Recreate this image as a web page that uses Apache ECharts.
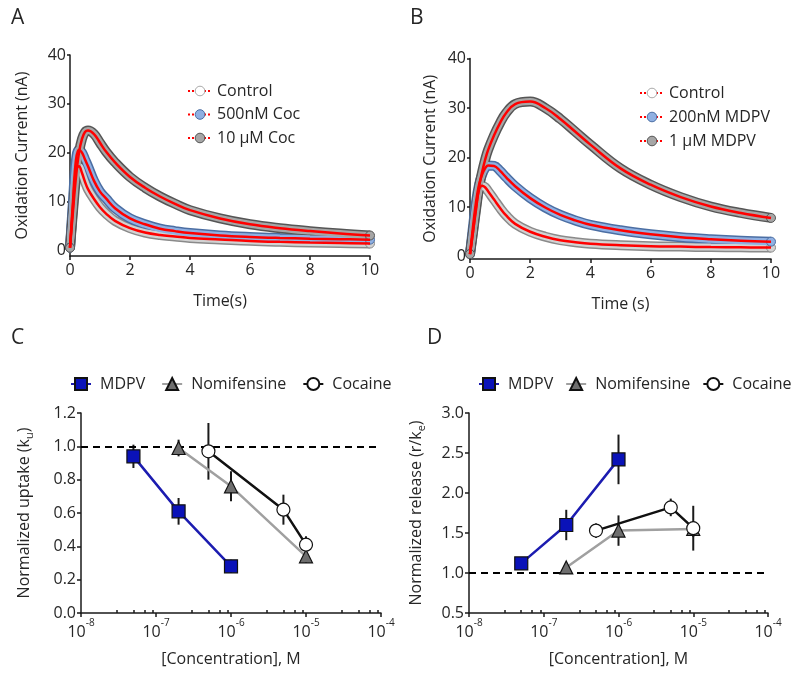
<!DOCTYPE html>
<html><head><meta charset="utf-8">
<script src="https://cdn.jsdelivr.net/npm/echarts@6/dist/echarts.min.js"></script>
<style>html,body{margin:0;padding:0;background:#fff}#c{width:800px;height:683px}</style>
</head><body><div id="c"></div>
<script>
// ---------- Panel A / B : time courses ----------
const timeS = [0,0.1,0.2,0.3,0.4,0.5,0.6,0.8,1.0,1.2,1.5,2,2.5,3,3.5,4,5,6,7,8,9,10];
const ctrlA   = [0.5,9,16.5,17.2,15.8,14,12.5,10.5,8.8,7.5,6.0,4.5,3.6,3.1,2.8,2.5,2.2,1.9,1.7,1.55,1.45,1.35];
const coc500A = [0.5,10,18.5,20.6,20,18.6,17.2,14.2,12,10.6,8.6,6.5,5.3,4.4,3.9,3.5,3.0,2.7,2.5,2.35,2.25,2.15];
const coc10A  = [0.5,8,15,20,22.8,24.2,24.5,23.8,22,20.2,18,15,12.8,11,9.5,8.2,6.5,5.3,4.5,3.9,3.4,3.0];
const ctrlB    = [0.5,5,10,13.5,14.3,14,13.2,11.5,9.8,8.3,6.6,5,4,3.3,2.9,2.6,2.3,2.1,2.0,1.9,1.85,1.8];
const mdpv200B = [0.5,6,11,14.5,16.5,17.8,18.4,18.3,17.3,16,14.2,11.8,9.9,8.4,7.3,6.4,5.3,4.5,3.9,3.5,3.2,3.0];
const mdpv1B   = [0.5,5,9.5,14,17,19.5,21.5,24.5,27,29,30.8,31.3,30,27.8,25.2,22.6,17.8,14.5,12,10.1,8.8,7.8];
const namesA = ['Control','500nM Coc','10 \u03bcM Coc'];
const namesB = ['Control','200nM MDPV','1 \u03bcM MDPV'];
const timeTicks = [0,2,4,6,8,10];
const currentTicks = [0,10,20,30,40];

// ---------- Panel C / D : concentration response ----------
const mdpvConc = [5e-8, 2e-7, 1e-6];
const nomConc  = [2e-7, 1e-6, 1e-5];
const cocConc  = [5e-7, 5e-6, 1e-5];
const mdpvUptake = [0.94, 0.61, 0.28];
const mdpvUptakeErr = [0.07, 0.08, 0.04];
const nomUptake = [0.99, 0.76, 0.34];
const nomUptakeErr = [0.05, 0.09, 0.04];
const cocUptake = [0.97, 0.62, 0.41];
const cocUptakeErr = [0.17, 0.09, 0.05];
const mdpvRelease = [1.12, 1.60, 2.42];
const mdpvReleaseErr = [0.03, 0.19, 0.31];
const nomRelease = [1.07, 1.53, 1.55];
const nomReleaseErr = [0.02, 0.19, 0.10];
const cocRelease = [1.53, 1.82, 1.56];
const cocReleaseErr = [0.09, 0.11, 0.28];
const drugNames = ['MDPV','Nomifensine','Cocaine'];
const decadeExps = [-8,-7,-6,-5,-4];
const minorMult = [3,5,7,9];
const uptakeTicks = [0,0.2,0.4,0.6,0.8,1.0,1.2];
const releaseTicks = [0.5,1.0,1.5,2.0,2.5,3.0];

const FONT = 'Open Sans';
const TXT = '#262626';
const AX = '#1a1a1a';

const pairs = (xs, ys) => xs.map((x,i)=>[x, ys[i]]);
const triples = (xs, ys, es) => xs.map((x,i)=>[x, ys[i], es[i]]);
const decadeVals = decadeExps.map(e => parseFloat('1e' + e));
const minorVals = [];
decadeExps.slice(0,-1).forEach(e => minorMult.forEach(m => minorVals.push(parseFloat(m + 'e' + e))));

const chart = echarts.init(document.getElementById('c'));

const grids = [
  {left:70, top:55, width:300, height:201},
  {left:470, top:58.5, width:301, height:200.5},
  {left:81, top:413, width:300, height:200},
  {left:469, top:413, width:299, height:200}
];

const lblStyle = {fontFamily:FONT, fontSize:16, color:TXT};
const axisLine = {show:true, onZero:false, lineStyle:{color:AX, width:1.5}};

function timeX(gi, name){
  return {type:'value', gridIndex:gi, min:0, max:10, axisLine,
    axisTick:{show:true, length:4, lineStyle:{color:AX, width:1.5}, customValues:timeTicks},
    axisLabel:Object.assign({margin:6, customValues:timeTicks}, lblStyle),
    splitLine:{show:false}, name, nameLocation:'middle', nameGap:37,
    nameTextStyle:{fontFamily:FONT, fontSize:16, color:TXT}};
}
function currentY(gi, min, gap){
  return {type:'value', gridIndex:gi, min, max:40, axisLine,
    axisTick:{show:true, length:3, lineStyle:{color:AX, width:1.5}, customValues:currentTicks},
    axisLabel:Object.assign({margin:4, customValues:currentTicks}, lblStyle),
    splitLine:{show:false}, name:'Oxidation Current (nA)', nameLocation:'middle', nameGap:gap,
    nameTextStyle:{fontFamily:FONT, fontSize:16, color:TXT}};
}
function concX(gi){
  return {type:'log', logBase:10, gridIndex:gi, min:1e-8, max:1e-4, axisLine,
    axisTick:{show:true, length:4, lineStyle:{color:AX, width:1.5}, customValues:decadeVals},
    axisLabel:{margin:5, customValues:decadeVals, color:TXT,
      formatter: v => '{b|10}{s|' + Math.round(Math.log10(v)) + '}',
      rich:{b:{fontFamily:FONT, fontSize:16, color:TXT, lineHeight:22, verticalAlign:'bottom'},
            s:{fontFamily:FONT, fontSize:10, color:TXT, lineHeight:12, verticalAlign:'top'}}},
    splitLine:{show:false}, name:'[Concentration], M', nameLocation:'middle', nameGap:38,
    nameTextStyle:{fontFamily:FONT, fontSize:16, color:TXT}};
}
function minorX(gi){
  return {type:'log', logBase:10, gridIndex:gi, min:1e-8, max:1e-4, position:'bottom',
    axisLine:{show:false, onZero:false}, axisLabel:{show:false}, splitLine:{show:false},
    axisTick:{show:true, inside:true, length:3, lineStyle:{color:AX, width:1.5}, customValues:minorVals}};
}
function ratioY(gi, min, max, ticks, name, gap){
  return {type:'value', gridIndex:gi, min, max, axisLine,
    axisTick:{show:true, length:4, lineStyle:{color:AX, width:1.5}, customValues:ticks},
    axisLabel:Object.assign({margin:5, customValues:ticks, formatter: v => v.toFixed(1)}, lblStyle),
    splitLine:{show:false}, name, nameLocation:'middle', nameGap:gap,
    nameTextStyle:{fontFamily:FONT, fontSize:16, color:TXT,
      rich:{sub:{fontFamily:FONT, fontSize:11, color:TXT, verticalAlign:'bottom', lineHeight:14},
            n:{fontFamily:FONT, fontSize:16, color:TXT, lineHeight:22}}}};
}

function trace(gi, name, ys, fill, edge){
  const last = timeS.length - 1;
  const d = pairs(timeS, ys);
  return [
    {type:'line', xAxisIndex:gi, yAxisIndex:gi, data:d, smooth:0.4, symbol:'none', silent:true,
     lineStyle:{width:10, color:edge}, z:2},
    {type:'line', name, xAxisIndex:gi, yAxisIndex:gi, data:d, smooth:0.4, symbol:'circle', showAllSymbol:true,
     symbolSize:(v,p)=> (p.dataIndex===last || p.dataIndex===0) ? 9 : 0,
     itemStyle:{color:fill, borderColor:edge, borderWidth:1}, lineStyle:{width:7, color:fill}, z:3}
  ];
}
function fit(gi, ys){
  return {type:'line', xAxisIndex:gi, yAxisIndex:gi, data:pairs(timeS, ys), smooth:0.4, symbol:'none',
    silent:true, lineStyle:{width:2.5, color:'#ff0000'}, z:6};
}
function errBars(gi, xs, ys, es){
  return {type:'custom', xAxisIndex:gi, yAxisIndex:gi, data:triples(xs, ys, es), z:4, silent:true,
    encode:{x:0, y:1},
    renderItem:(params, api) => {
      const x = api.value(0), y = api.value(1), e = api.value(2);
      const p1 = api.coord([x, y + e]), p2 = api.coord([x, y - e]);
      return {type:'line', shape:{x1:p1[0], y1:p1[1], x2:p2[0], y2:p2[1]},
              style:{stroke:'#1a1a1a', lineWidth:2}};
    }};
}
function drug(gi, name, xs, ys, lineColor, symbol, fill, size, extra){
  return Object.assign({type:'line', name, xAxisIndex:gi, yAxisIndex:gi, data:pairs(xs, ys),
    symbol, symbolSize:size, showAllSymbol:true,
    itemStyle:{color:fill, borderColor:'#111', borderWidth:1.2},
    lineStyle:{width:2.5, color:lineColor}, z:5}, extra || {});
}
const dashed = {silent:true, symbol:'none', label:{show:false},
  lineStyle:{type:[7,5], color:'#000', width:2}, data:[]};

const traceFill = {ctrl:'#d2d2d2', blue:'#8fb0e2', grey:'#a6a6a6'};
const traceEdge = {ctrl:'#8a8a8a', blue:'#4b6ea3', grey:'#555555'};

const series = [].concat(
  trace(0, namesA[0], ctrlA, traceFill.ctrl, traceEdge.ctrl),
  trace(0, namesA[1], coc500A, traceFill.blue, traceEdge.blue),
  trace(0, namesA[2], coc10A, traceFill.grey, traceEdge.grey),
  [fit(0, ctrlA), fit(0, coc500A), fit(0, coc10A)],
  trace(1, namesB[0], ctrlB, traceFill.ctrl, traceEdge.ctrl),
  trace(1, namesB[1], mdpv200B, traceFill.blue, traceEdge.blue),
  trace(1, namesB[2], mdpv1B, traceFill.grey, traceEdge.grey),
  [fit(1, ctrlB), fit(1, mdpv200B), fit(1, mdpv1B)],
  [errBars(2, mdpvConc, mdpvUptake, mdpvUptakeErr),
   errBars(2, nomConc, nomUptake, nomUptakeErr),
   errBars(2, cocConc, cocUptake, cocUptakeErr),
   drug(2, drugNames[0], mdpvConc, mdpvUptake, '#1c1cb0', 'rect', '#0a12b8', 13,
        {markLine:Object.assign({}, dashed, {data:[{yAxis:1}]})}),
   drug(2, drugNames[1], nomConc, nomUptake, '#a0a0a0', 'triangle', '#6e6e6e', 13),
   drug(2, drugNames[2], cocConc, cocUptake, '#111111', 'circle', '#ffffff', 13),
   errBars(3, mdpvConc, mdpvRelease, mdpvReleaseErr),
   errBars(3, nomConc, nomRelease, nomReleaseErr),
   errBars(3, cocConc, cocRelease, cocReleaseErr),
   drug(3, drugNames[0], mdpvConc, mdpvRelease, '#1c1cb0', 'rect', '#0a12b8', 13,
        {markLine:Object.assign({}, dashed, {data:[{yAxis:1}]})}),
   drug(3, drugNames[1], nomConc, nomRelease, '#a0a0a0', 'triangle', '#6e6e6e', 13),
   drug(3, drugNames[2], cocConc, cocRelease, '#111111', 'circle', '#ffffff', 13)]
);

const traceLegendItems = (names) => names.map((n, i) => ({
  name:n,
  itemStyle:{color:[ '#ffffff', traceFill.blue, traceFill.grey ][i], borderColor:['#aaaaaa', traceEdge.blue, traceEdge.grey][i], borderWidth:1},
  lineStyle:{color:'#ff0000', type:'dotted', width:2}
}));

const legendText = {fontFamily:FONT, fontSize:16, color:TXT};
const drugLegendText = {fontFamily:FONT, fontSize:16, color:TXT, padding:[0,0,0,4]};

chart.setOption({
  animation:false,
  backgroundColor:'#ffffff',
  title:[
    {text:'A', left:6, top:3, textStyle:{fontFamily:FONT, fontSize:21, fontWeight:'normal', color:TXT}},
    {text:'B', left:405, top:3, textStyle:{fontFamily:FONT, fontSize:21, fontWeight:'normal', color:TXT}},
    {text:'C', left:6, top:323, textStyle:{fontFamily:FONT, fontSize:21, fontWeight:'normal', color:TXT}},
    {text:'D', left:422, top:323, textStyle:{fontFamily:FONT, fontSize:21, fontWeight:'normal', color:TXT}}
  ],
  grid: grids,
  legend:[
    {orient:'vertical', left:187, top:83, padding:0, itemWidth:24, itemHeight:12, itemGap:7.5, textStyle:legendText,
     data:traceLegendItems(namesA), selectedMode:false},
    {orient:'vertical', left:639, top:85, padding:0, itemWidth:24, itemHeight:12, itemGap:8, textStyle:legendText,
     data:traceLegendItems(namesB), selectedMode:false},
    {orient:'horizontal', left:70, top:376, padding:0, itemWidth:20, itemHeight:15, itemGap:16, textStyle:drugLegendText,
     data:drugNames, selectedMode:false},
    {orient:'horizontal', left:478, top:376, padding:0, itemWidth:20, itemHeight:15, itemGap:12, width:322, textStyle:drugLegendText,
     data:drugNames, selectedMode:false}
  ],
  xAxis:[timeX(0,'Time(s)'), timeX(1,'Time (s)'), concX(2), concX(3), minorX(2), minorX(3)],
  yAxis:[currentY(0,-1.2,40), currentY(1,-0.5,32),
    ratioY(2, 0, 1.2, uptakeTicks, '{n|Normalized uptake (k}{sub|u}{n|)}', 46),
    ratioY(3, 0.5, 3.0, releaseTicks, '{n|Normalized release (r/k}{sub|e}{n|)}', 42)],
  series
});
</script>
</body></html>
